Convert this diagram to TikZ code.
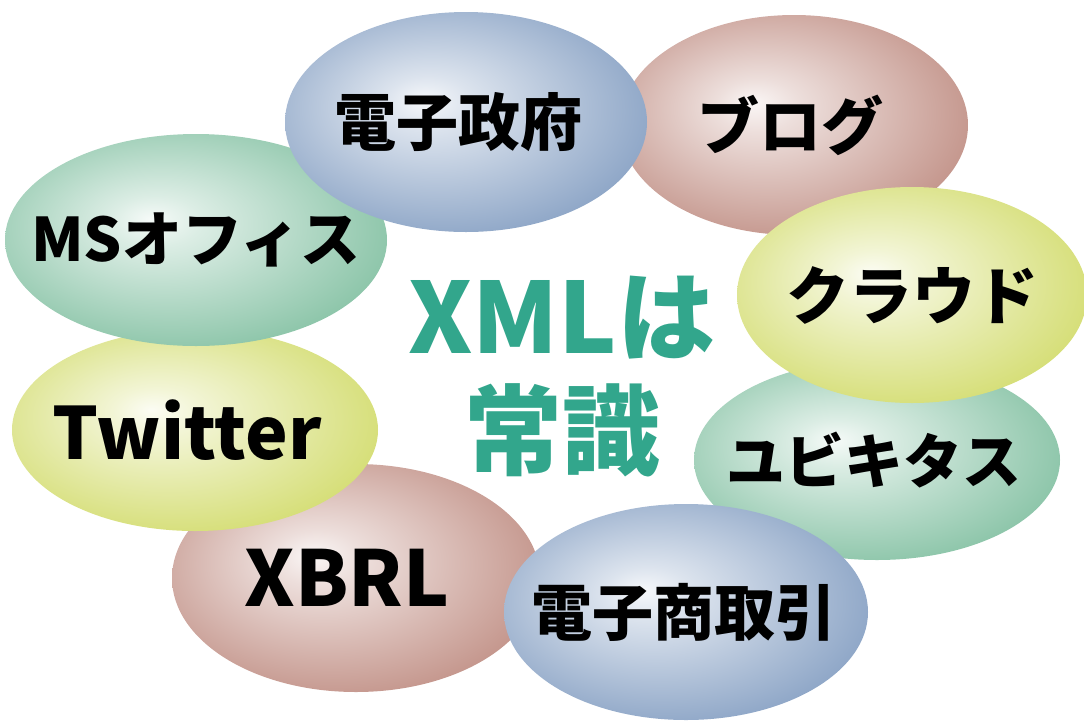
\documentclass[tikz,border=0pt]{standalone}
\usepackage{fontspec}
\setmainfont{Noto Sans CJK JP}[BoldFont={Noto Sans CJK JP Black}]
\usepackage{tikz}
\usetikzlibrary{shapes.geometric}

\definecolor{bluec}{RGB}{138,163,197}
\definecolor{pinkc}{RGB}{194,146,136}
\definecolor{greenc}{RGB}{136,195,166}
\definecolor{yellowc}{RGB}{212,221,114}
\definecolor{tealc}{RGB}{50,166,140}
\pgfdeclareradialshading{blueball}{\pgfpoint{-6bp}{5bp}}{color(0bp)=(white!92!bluec); color(6bp)=(white!70!bluec); color(30bp)=(bluec); color(50bp)=(bluec)}
\pgfdeclareradialshading{pinkball}{\pgfpoint{-6bp}{5bp}}{color(0bp)=(white!92!pinkc); color(6bp)=(white!70!pinkc); color(30bp)=(pinkc); color(50bp)=(pinkc)}
\pgfdeclareradialshading{greenball}{\pgfpoint{-6bp}{5bp}}{color(0bp)=(white!92!greenc); color(6bp)=(white!70!greenc); color(30bp)=(greenc); color(50bp)=(greenc)}
\pgfdeclareradialshading{yellowball}{\pgfpoint{-6bp}{5bp}}{color(0bp)=(white!92!yellowc); color(6bp)=(white!70!yellowc); color(30bp)=(yellowc); color(50bp)=(yellowc)}
% text of a ball, kept out of the ball's size; #2 shifts it sideways
\newcommand{\balltext}[3]{\makebox[0pt]{\kern#2pt\fontsize{#1}{#1}\selectfont #3}}

\begin{document}
\begin{tikzpicture}[x=1pt,y=-1pt,
    ball/.style={ellipse,inner sep=0pt,font=\bfseries},
    big/.style={font=\bfseries\fontsize{98}{100}\selectfont,text=tealc}]
    \useasboundingbox (0,0) rectangle (1084,721);
    % ring of topics
    \node[ball,shading=pinkball,minimum width=368pt,minimum height=228pt] (xbrl) at (356,578) {\balltext{77}{-18}{XBRL}};
    \node[ball,shading=yellowball,minimum width=366pt,minimum height=202pt] (twitter) at (195,430) {\balltext{72}{-16}{Twitter}};
    \node[ball,shading=greenball,minimum width=382pt,minimum height=212pt] (msoffice) at (196,240) {\balltext{60}{0}{MSオフィス}};
    \node[ball,shading=pinkball,minimum width=348pt,minimum height=220pt] (blog) at (794,125) {\balltext{62}{-8}{ブログ}};
    \node[ball,shading=blueball,minimum width=362pt,minimum height=220pt] (egov) at (466,122) {\balltext{62}{-16}{電子政府}};
    \node[ball,shading=greenball,minimum width=366pt,minimum height=200pt] (ubiq) at (877,460) {\balltext{59}{-6}{ユビキタス}};
    \node[ball,shading=yellowball,minimum width=350pt,minimum height=216pt] (cloud) at (912,295) {\balltext{63}{0}{クラウド}};
    \node[ball,shading=blueball,minimum width=364pt,minimum height=216pt] (ecom) at (686,612) {\balltext{61}{-4}{電子商取引}};
    % middle
    \node[big] (xml) at (562,318) {XMLは};
    \node[big] (joshiki) at (562,430) {常識};
\end{tikzpicture}
\end{document}
